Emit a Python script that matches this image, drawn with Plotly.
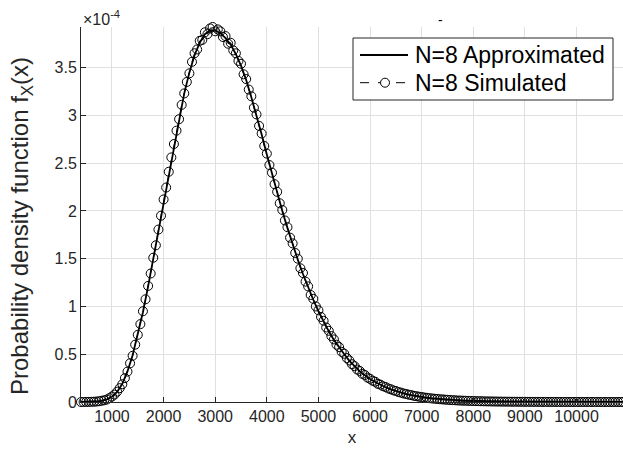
import plotly.graph_objects as go

# ---- data (values in units of 1e-4) ----
x_start = 400
x_sim_step = 50
x_line_step = 100

sim_vals = [
    0.000, 0.000, 0.001, 0.001, 0.002, 0.003, 0.005, 0.008, 0.013, 0.018,
    0.026, 0.040, 0.057, 0.078, 0.108, 0.145, 0.186, 0.250, 0.318, 0.405,
    0.484, 0.600, 0.703, 0.815, 0.950, 1.075, 1.215, 1.345, 1.510, 1.640,
    1.805, 1.950, 2.120, 2.245, 2.410, 2.560, 2.700, 2.840, 2.960, 3.110,
    3.230, 3.350, 3.440, 3.560, 3.650, 3.690, 3.780, 3.790, 3.870, 3.850,
    3.910, 3.925, 3.880, 3.900, 3.880, 3.820, 3.830, 3.750, 3.760, 3.680,
    3.650, 3.570, 3.540, 3.430, 3.380, 3.270, 3.200, 3.080, 3.010, 2.890,
    2.810, 2.680, 2.600, 2.480, 2.400, 2.280, 2.200, 2.080, 2.010, 1.900,
    1.830, 1.720, 1.660, 1.560, 1.500, 1.400, 1.350, 1.260, 1.210, 1.120,
    1.080, 1.000, 0.960, 0.890, 0.850, 0.780, 0.745, 0.690, 0.655, 0.600,
    0.575, 0.525, 0.505, 0.460, 0.435, 0.395, 0.375, 0.340, 0.325, 0.295,
    0.283, 0.255, 0.243, 0.222, 0.212, 0.190, 0.182, 0.165, 0.157, 0.142,
    0.134, 0.122, 0.115, 0.104, 0.098, 0.089, 0.084, 0.076, 0.072, 0.064,
    0.061, 0.055, 0.052, 0.047, 0.044, 0.040, 0.037, 0.034, 0.032, 0.029,
    0.027, 0.025, 0.023, 0.021, 0.019, 0.018, 0.016, 0.015, 0.014, 0.013,
    0.012, 0.011, 0.010, 0.009, 0.0085, 0.008, 0.0072, 0.0066, 0.0061, 0.0056,
    0.0052, 0.0048, 0.0044, 0.0040, 0.0037, 0.0034, 0.0031, 0.0028, 0.0026, 0.0024,
    0.0022, 0.0020, 0.0019, 0.0017, 0.0016, 0.0014, 0.0013, 0.0012, 0.0011, 0.0010,
    0.0009, 0.0008, 0.0008, 0.0007, 0.0007, 0.0006, 0.0006, 0.0005, 0.0005, 0.0004,
    0.0004, 0.0003, 0.0003, 0.0003, 0.0003, 0.0002, 0.0002, 0.0002, 0.0002, 0.0002,
    0.0002, 0.0001, 0.0001, 0.0001, 0.0001, 0.0001, 0.0001, 0.0001, 0.0001, 0.0001,
    0.0001,
]

line_vals = [
    0.0001, 0.0005, 0.002, 0.005, 0.012, 0.027, 0.055, 0.105, 0.19, 0.32,
    0.49, 0.70, 0.94, 1.21, 1.50, 1.80, 2.10, 2.40, 2.69, 2.97,
    3.23, 3.45, 3.63, 3.76, 3.85, 3.89, 3.89, 3.86, 3.81, 3.74,
    3.64, 3.52, 3.37, 3.19, 3.00, 2.80, 2.59, 2.39, 2.19, 2.00,
    1.82, 1.65, 1.49, 1.34, 1.20, 1.07, 0.95, 0.84, 0.74, 0.65,
    0.57, 0.50, 0.43, 0.37, 0.32, 0.28, 0.24, 0.21, 0.18, 0.155,
    0.133, 0.114, 0.097, 0.083, 0.071, 0.060, 0.051, 0.044, 0.037, 0.032,
    0.027, 0.023, 0.019, 0.016, 0.014, 0.012, 0.010, 0.0085, 0.0072, 0.0061,
    0.0052, 0.0044, 0.0037, 0.0031, 0.0026, 0.0022, 0.0019, 0.0016, 0.0013, 0.0011,
    0.0009, 0.0008, 0.0007, 0.0006, 0.0005, 0.0004, 0.0003, 0.0003, 0.0002, 0.0002,
    0.0002, 0.0001, 0.0001, 0.0001, 0.0001, 0.0001,
]

x_sim = [x_start + x_sim_step * i for i in range(len(sim_vals))]
x_line = [x_start + x_line_step * i for i in range(len(line_vals))]

x_ticks = [1000, 2000, 3000, 4000, 5000, 6000, 7000, 8000, 9000, 10000]
x_ticktext = ["1000", "2000", "3000", "4000", "5000", "6000", "7000", "8000", "9000", "10000"]
y_ticks = [0, 0.5, 1, 1.5, 2, 2.5, 3, 3.5]
y_ticktext = ["0", "0.5", "1", "1.5", "2", "2.5", "3", "3.5"]

legend_names = ["N=8 Approximated", "N=8 Simulated"]

FONT = "Liberation Sans, Arial, Helvetica, sans-serif"
AX = "#262626"
GRID = "#e0e0e0"

# plot-area geometry in pixels (for converting legend positions)
L, R, T, B = 81, 623, 27, 402
def px(xp):
    return (xp - L) / (R - L)
def py(yp):
    return (B - yp) / (B - T)

fig = go.Figure()
fig.add_trace(go.Scatter(
    x=x_sim, y=sim_vals, mode="lines+markers", name=legend_names[1],
    line=dict(color="black", width=1, dash="dash"),
    marker=dict(symbol="circle-open", size=9, color="black", line=dict(width=1, color="black")),
    cliponaxis=False, showlegend=False,
))
fig.add_trace(go.Scatter(
    x=x_line, y=line_vals, mode="lines", name=legend_names[0],
    line=dict(color="black", width=1.8),
    cliponaxis=False, showlegend=False,
))

# manual legend (box, samples, labels)
shapes = [
    dict(type="rect", xref="paper", yref="paper", x0=px(353), x1=px(613), y0=py(100), y1=py(38),
         line=dict(color=AX, width=1), fillcolor="white", layer="above"),
    dict(type="line", xref="paper", yref="paper", x0=px(360), x1=px(408), y0=py(55), y1=py(55),
         line=dict(color="black", width=1.8), layer="above"),
    dict(type="line", xref="paper", yref="paper", x0=px(360), x1=px(408), y0=py(82.7), y1=py(82.7),
         line=dict(color="black", width=1, dash="dash"), layer="above"),
    dict(type="circle", xref="paper", yref="paper", x0=px(380.5), x1=px(389.5), y0=py(87.2), y1=py(78.2),
         line=dict(color="black", width=1), fillcolor="white", layer="above"),
]

annotations = [
    dict(text=legend_names[0], xref="paper", yref="paper", x=px(413), y=py(55),
         xanchor="left", yanchor="middle", showarrow=False,
         font=dict(size=23, color="black", family=FONT)),
    dict(text=legend_names[1], xref="paper", yref="paper", x=px(413), y=py(82.7),
         xanchor="left", yanchor="middle", showarrow=False,
         font=dict(size=23, color="black", family=FONT)),
    dict(text="Probability density function f<sub>X</sub>(x)", textangle=-90,
         xref="paper", yref="paper", x=px(22), y=py(226),
         xanchor="center", yanchor="middle", showarrow=False,
         font=dict(size=24, color=AX, family=FONT)),
    dict(text="×10<sup>-4</sup>", xref="paper", yref="paper",
         x=0, y=py(18), xanchor="left", yanchor="middle",
         showarrow=False, font=dict(size=16, color=AX, family=FONT)),
    dict(text="-", xref="paper", yref="paper",
         x=px(440), y=py(20), xanchor="center", yanchor="middle",
         showarrow=False, font=dict(size=14, color="black", family=FONT)),
]

fig.update_layout(
    width=623, height=452,
    margin=dict(l=L, r=623 - R, t=T, b=452 - B),
    paper_bgcolor="white", plot_bgcolor="white",
    font=dict(family=FONT, color=AX, size=16),
    showlegend=False,
    xaxis=dict(
        range=[400, 10900], tickmode="array", tickvals=x_ticks, ticktext=x_ticktext,
        ticks="inside", ticklen=5, tickcolor=AX, showline=True, linecolor=AX, linewidth=1,
        showgrid=True, gridcolor=GRID, gridwidth=1, zeroline=False, mirror=False,
        tickfont=dict(size=16, color=AX),
        title=dict(text="x", font=dict(size=17, color=AX), standoff=6),
    ),
    yaxis=dict(
        range=[0, 3.925], tickmode="array", tickvals=y_ticks, ticktext=y_ticktext,
        ticks="inside", ticklen=5, tickcolor=AX, showline=True, linecolor=AX, linewidth=1,
        showgrid=True, gridcolor=GRID, gridwidth=1, zeroline=False, mirror=False,
        tickfont=dict(size=16, color=AX),
    ),
    shapes=shapes,
    annotations=annotations,
)

fig.write_html("out.html")
